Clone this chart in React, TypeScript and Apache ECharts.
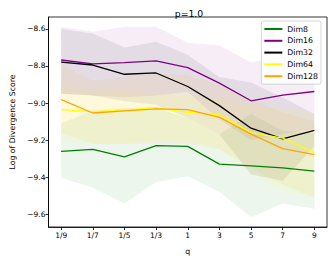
import React, { useEffect, useRef } from "react";
import * as echarts from "echarts";

const qLabels = ["1/9", "1/7", "1/5", "1/3", "1", "3", "5", "7", "9"];
const yTicks = [-9.6, -9.4, -9.2, -9.0, -8.8, -8.6];

const names = ["Dim8", "Dim16", "Dim32", "Dim64", "Dim128"];
const colors = ["#008000", "#800080", "#000000", "#ffff00", "#ffa500"];

const dim8Mean = [-9.261, -9.25, -9.291, -9.23, -9.234, -9.33, -9.339, -9.35, -9.368];
const dim8Upper = [-9.11, -9.04, -9.03, -9.03, -9.08, -9.17, -9.06, -9.15, -9.16];
const dim8Lower = [-9.405, -9.457, -9.542, -9.427, -9.395, -9.48, -9.617, -9.542, -9.57];

const dim16Mean = [-8.768, -8.789, -8.782, -8.773, -8.809, -8.893, -8.988, -8.957, -8.938];
const dim16Upper = [-8.589, -8.616, -8.589, -8.589, -8.675, -8.69, -8.78, -8.75, -8.73];
const dim16Lower = [-8.95, -8.96, -8.97, -8.96, -8.94, -9.09, -9.2, -9.17, -9.14];

const dim32Mean = [-8.779, -8.795, -8.845, -8.838, -8.911, -9.014, -9.136, -9.193, -9.148];
const dim32Upper = [-8.6, -8.625, -8.7, -8.67, -8.74, -8.86, -8.89, -8.97, -9.06];
const dim32Lower = [-8.95, -8.96, -8.99, -9.01, -9.08, -9.17, -9.386, -9.42, -9.235];

const dim64Mean = [-9.036, -9.046, -9.038, -9.025, -9.05, -9.064, -9.16, -9.189, -9.268];
const dim64Upper = [-8.9, -8.93, -8.93, -8.95, -8.96, -8.97, -9.02, -9.03, -9.05];
const dim64Lower = [-9.2, -9.22, -9.22, -9.2, -9.2, -9.25, -9.38, -9.48, -9.5];

const dim128Mean = [-8.982, -9.054, -9.043, -9.032, -9.036, -9.077, -9.168, -9.246, -9.279];
const dim128Upper = [-8.79, -8.88, -8.86, -8.84, -8.85, -8.9, -8.98, -9.05, -9.1];
const dim128Lower = [-9.16, -9.22, -9.22, -9.22, -9.22, -9.25, -9.35, -9.44, -9.51];

const means = [dim8Mean, dim16Mean, dim32Mean, dim64Mean, dim128Mean];
const uppers = [dim8Upper, dim16Upper, dim32Upper, dim64Upper, dim128Upper];
const lowers = [dim8Lower, dim16Lower, dim32Lower, dim64Lower, dim128Lower];

const FONT = "DejaVu Sans";

export default function App() {
  const ref = useRef<HTMLDivElement>(null);
  useEffect(() => {
    if (!ref.current) return;
    const chart = echarts.init(ref.current, undefined, { renderer: "svg" });
    const series: any[] = [];
    names.forEach((n, si) => {
      const lo = lowers[si];
      const up = uppers[si];
      series.push({
        name: n + "_band",
        type: "custom",
        data: lo.map((v, i) => [i, v, up[i]]),
        encode: { x: 0, y: [1, 2] },
        silent: true,
        z: 1,
        renderItem: (params: any, api: any) => {
          if (params.dataIndex !== 0) return null;
          const pts: number[][] = [];
          for (let i = 0; i < up.length; i++) pts.push(api.coord([i, up[i]]));
          for (let i = lo.length - 1; i >= 0; i--) pts.push(api.coord([i, lo[i]]));
          return {
            type: "polygon",
            shape: { points: pts },
            style: { fill: colors[si], opacity: 0.07 },
          };
        },
      });
    });
    names.forEach((n, si) => {
      series.push({
        name: n,
        type: "line",
        data: means[si].map((v, i) => [i, v]),
        symbol: "none",
        lineStyle: { color: colors[si], width: 1.3 },
        itemStyle: { color: colors[si] },
        z: 3,
      });
    });
    chart.setOption({
      animation: false,
      title: {
        text: "p=1.0",
        left: 184,
        top: 4,
        textAlign: "center",
        textStyle: { fontFamily: FONT, fontSize: 9.3, fontWeight: "normal", color: "#000" },
      },
      legend: {
        data: names.map((n, i) => ({ name: n, itemStyle: { color: colors[i] } })),
        orient: "vertical",
        right: 12,
        top: 21,
        itemWidth: 18,
        itemHeight: 2,
        itemGap: 3.8,
        icon: "rect",
        padding: [4, 3, 4, 3],
        borderColor: "#cccccc",
        borderWidth: 0.8,
        borderRadius: 2,
        backgroundColor: "rgba(255,255,255,0.8)",
        textStyle: { fontFamily: FONT, fontSize: 7.8, lineHeight: 8, color: "#000", padding: [0, 0, 0, 0] },
        z: 10,
      },
      grid: {
        left: 41,
        right: 6,
        top: 17,
        bottom: 31,
        show: true,
        borderColor: "#000",
        borderWidth: 0.8,
      },
      xAxis: {
        type: "value",
        min: -0.4,
        max: 8.4,
        name: "q",
        nameLocation: "middle",
        nameGap: 20,
        nameTextStyle: { fontFamily: FONT, fontSize: 7.8, color: "#000" },
        splitLine: { show: false },
        axisLine: { show: true, onZero: false, lineStyle: { color: "#000", width: 0.8 } },
        axisTick: { show: true, length: 3, lineStyle: { color: "#000", width: 0.8 }, customValues: qLabels.map((_, i) => i) },
        axisLabel: {
          fontFamily: FONT,
          fontSize: 7.5,
          color: "#000",
          margin: 4,
          customValues: qLabels.map((_, i) => i),
          formatter: (v: number) => qLabels[Math.round(v)] ?? "",
        },
      },
      yAxis: {
        type: "value",
        min: -9.669,
        max: -8.536,
        name: "Log of Divergence Score",
        nameLocation: "middle",
        nameGap: 32.5,
        nameTextStyle: { fontFamily: FONT, fontSize: 7.8, color: "#000" },
        splitLine: { show: false },
        axisLine: { show: true, onZero: false, lineStyle: { color: "#000", width: 0.8 } },
        axisTick: { show: true, length: 3, lineStyle: { color: "#000", width: 0.8 }, customValues: yTicks },
        axisLabel: {
          fontFamily: FONT,
          fontSize: 7.5,
          color: "#000",
          margin: 3,
          customValues: yTicks,
          formatter: (v: number) => v.toFixed(1).replace("-", "\u2212"),
        },
      },
      series,
    });
    return () => chart.dispose();
  }, []);
  return <div ref={ref} style={{ width: 333, height: 260, position: "absolute", left: 0, top: 0 }} />;
}
